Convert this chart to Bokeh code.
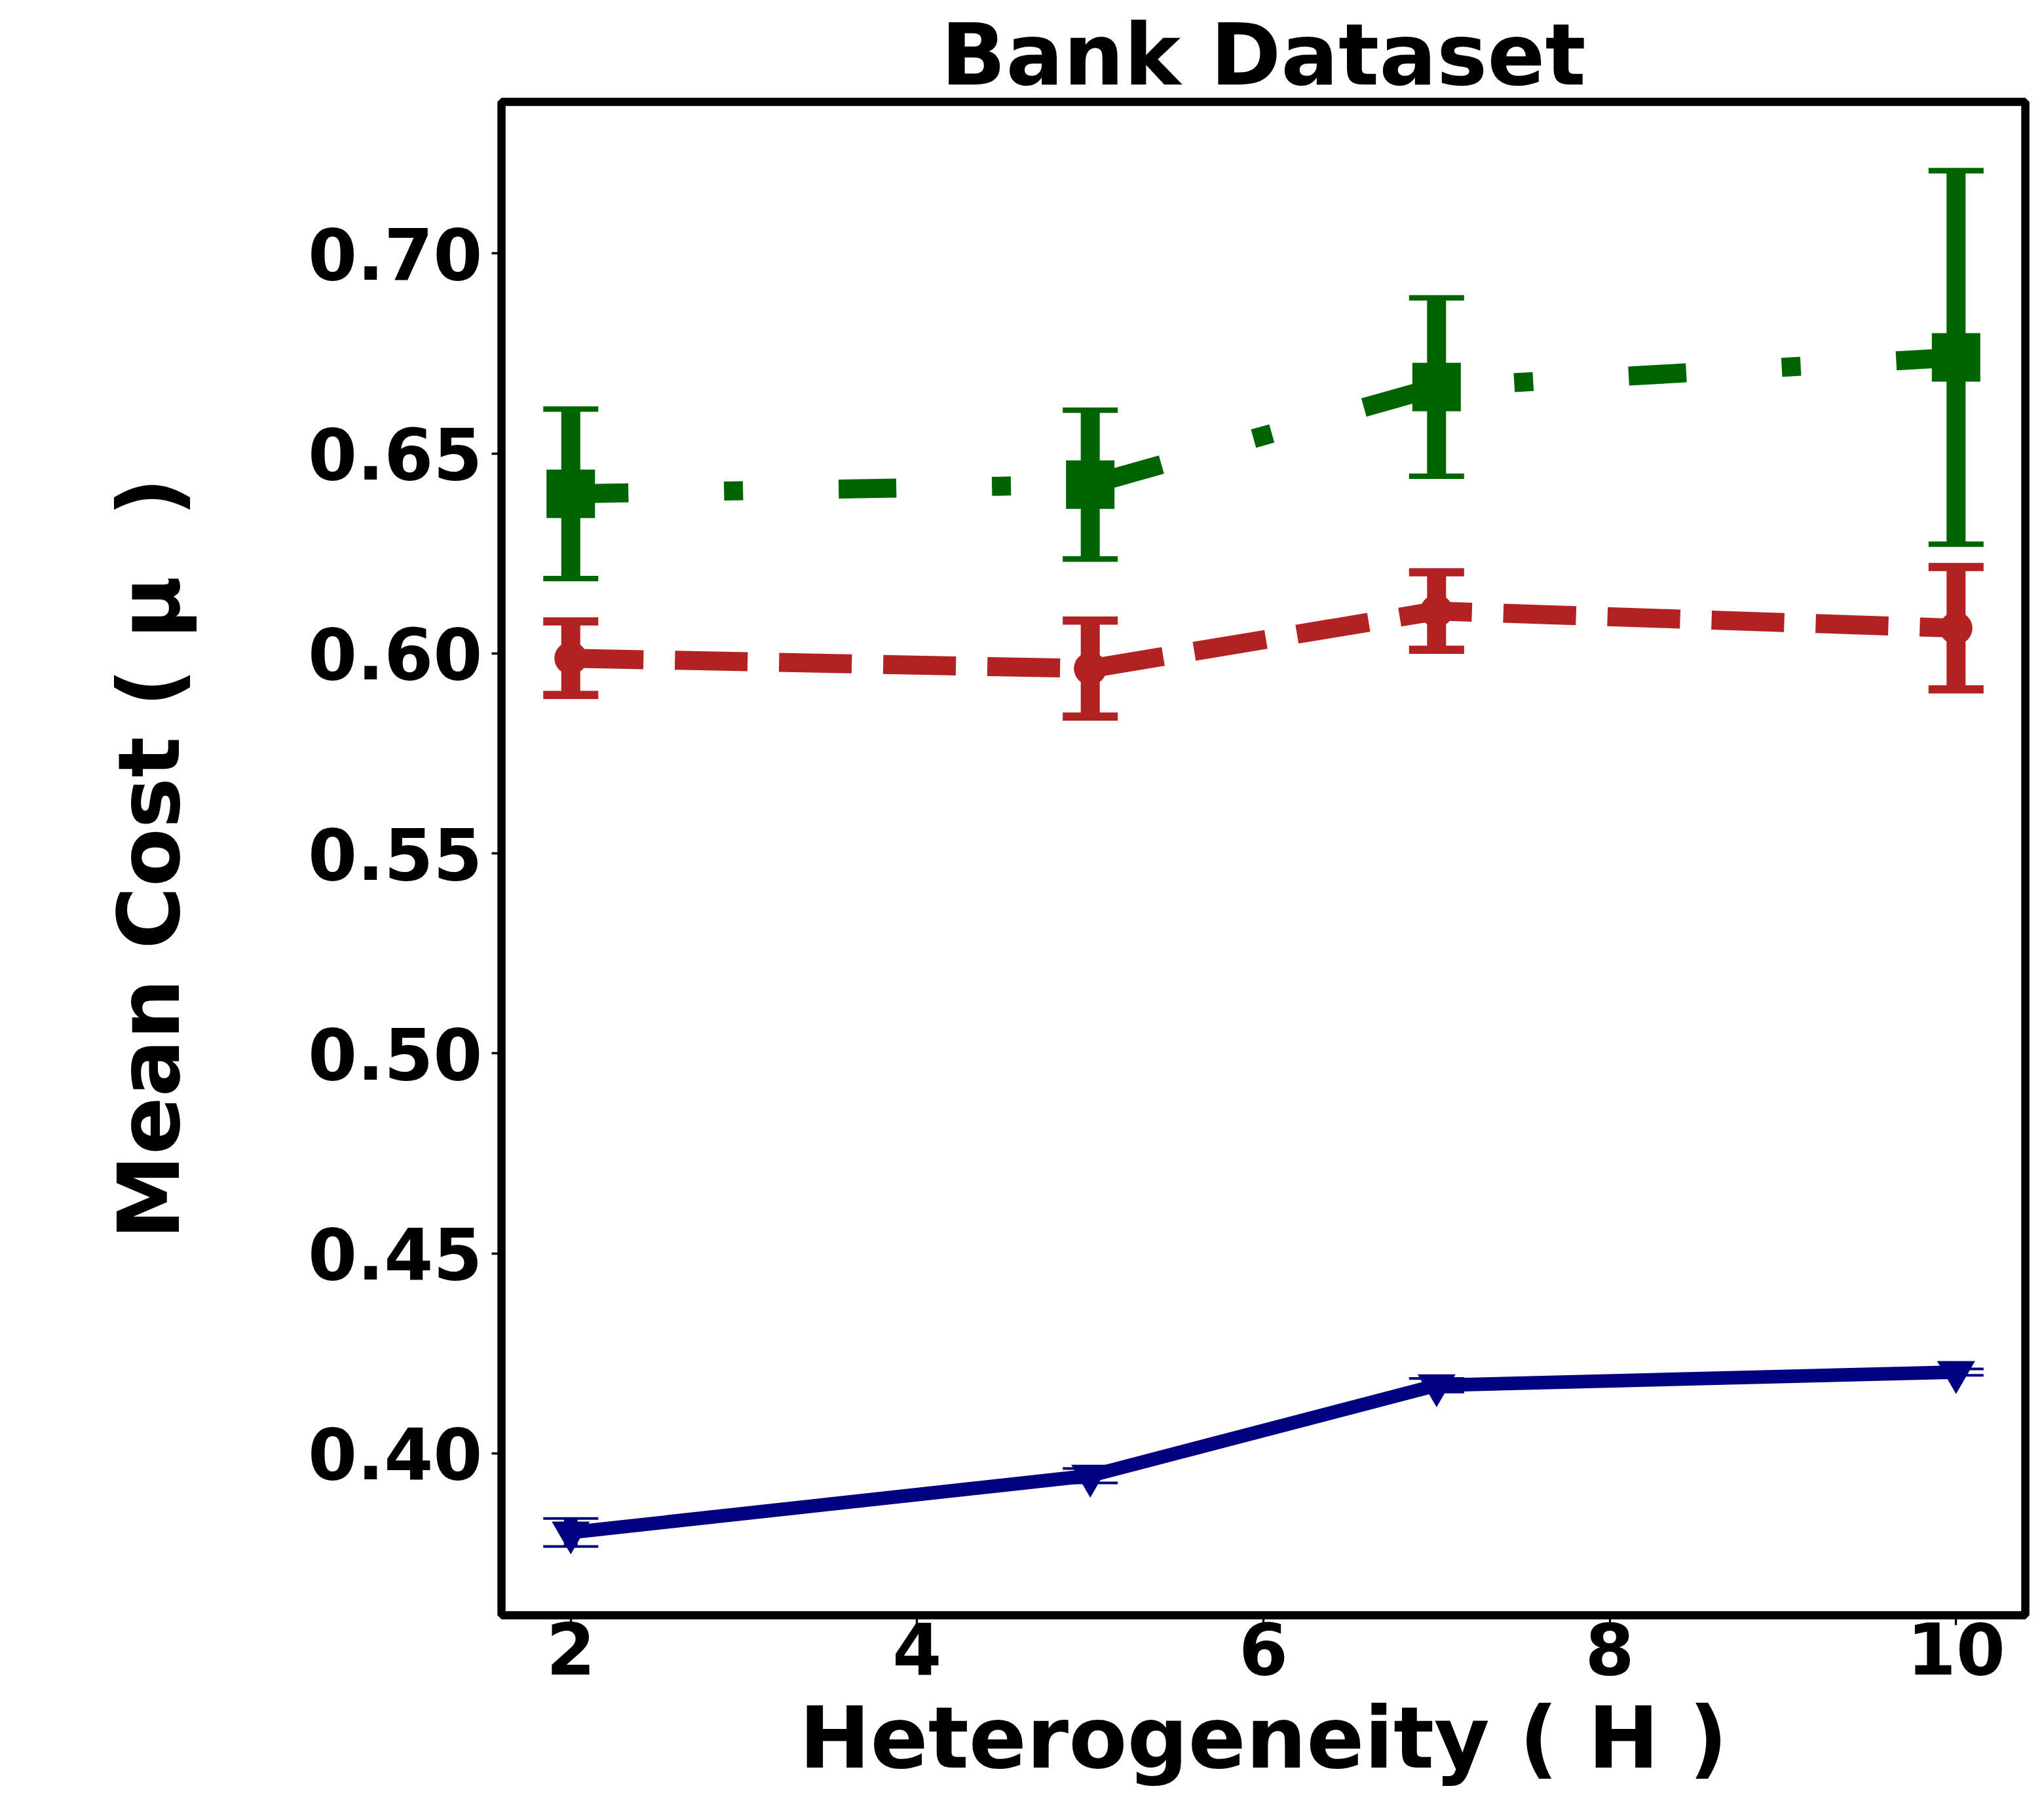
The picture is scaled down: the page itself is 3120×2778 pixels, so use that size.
from bokeh.plotting import figure
from bokeh.models import Range1d, FixedTicker, PrintfTickFormatter
from bokeh.embed import file_html
from bokeh.resources import INLINE

# ---- data ----
heterogeneity = [2, 5, 7, 10]
green_mean = [0.6399, 0.6422, 0.6666, 0.6740]
green_err = [0.0212, 0.0186, 0.0223, 0.0467]
red_mean = [0.5988, 0.5962, 0.6106, 0.6063]
red_err = [0.0092, 0.0120, 0.0097, 0.0153]
blue_mean = [0.3802, 0.3944, 0.4170, 0.4203]
blue_err = [0.0035, 0.0018, 0.0017, 0.0008]
x_ticks = [2, 4, 6, 8, 10]
y_ticks = [0.40, 0.45, 0.50, 0.55, 0.60, 0.65, 0.70]

title_text = "Bank Dataset"
x_label = "Heterogeneity ( H )"
y_label = "Mean Cost ( \u03bc\u00a0\u00a0)"

# ---- ranges like matplotlib's 5% margins ----
all_lo = [m - e for m, e in zip(green_mean + red_mean + blue_mean, green_err + red_err + blue_err)]
all_hi = [m + e for m, e in zip(green_mean + red_mean + blue_mean, green_err + red_err + blue_err)]
ylo, yhi = min(all_lo), max(all_hi)
ypad = 0.05 * (yhi - ylo)
xlo, xhi = min(heterogeneity), max(heterogeneity)
xpad = 0.05 * (xhi - xlo)

FONT = "DejaVu Sans"
W, H = 3104, 2762
p = figure(width=W, height=H,
           x_range=Range1d(xlo - xpad, xhi + xpad),
           y_range=Range1d(ylo - ypad, yhi + ypad),
           output_backend="svg", toolbar_location=None,
           min_border_left=765, min_border_right=13,
           min_border_top=155, min_border_bottom=297)

p.background_fill_color = "white"
p.border_fill_color = "white"
p.grid.visible = False
p.outline_line_color = "black"
p.outline_line_width = 12.5
p.outline_line_alpha = 1.0

# title
p.title.text = title_text
p.title.align = "center"
p.title.text_font = FONT
p.title.text_font_size = "130px"
p.title.text_font_style = "bold"
p.title.text_color = "black"
p.title.standoff = -8

for ax in (p.xaxis[0], p.yaxis[0]):
    ax.axis_line_color = None
    ax.major_tick_line_color = "black"
    ax.major_tick_line_width = 3.3
    ax.major_tick_out = 15
    ax.major_tick_in = 0
    ax.minor_tick_line_color = None
    ax.major_label_text_font = FONT
    ax.major_label_text_font_size = "108px"
    ax.major_label_text_font_style = "bold"
    ax.major_label_text_color = "black"
    ax.axis_label_text_font = FONT
    ax.axis_label_text_font_size = "130px"
    ax.axis_label_text_font_style = "bold"
    ax.axis_label_text_color = "black"

p.xaxis[0].ticker = FixedTicker(ticks=x_ticks)
p.xaxis[0].formatter = PrintfTickFormatter(format="%d")
p.xaxis[0].major_label_standoff = -5
p.xaxis[0].axis_label = x_label
p.xaxis[0].axis_label_standoff = 18

p.yaxis[0].ticker = FixedTicker(ticks=y_ticks)
p.yaxis[0].formatter = PrintfTickFormatter(format="%.2f")
p.yaxis[0].major_label_standoff = 14
p.yaxis[0].axis_label = y_label
p.yaxis[0].axis_label_standoff = 163


def series(mean, err, color, lw, dash, marker, msize, cap_w):
    lo = [m - e for m, e in zip(mean, err)]
    hi = [m + e for m, e in zip(mean, err)]
    p.line(heterogeneity, mean, line_color=color, line_width=lw,
           line_dash=dash, line_join="round")
    p.segment(x0=heterogeneity, y0=lo, x1=heterogeneity, y1=hi,
              line_color=color, line_width=lw)
    p.scatter(heterogeneity, lo, marker="dash", size=84,
              line_color=color, line_width=cap_w)
    p.scatter(heterogeneity, hi, marker="dash", size=84,
              line_color=color, line_width=cap_w)
    p.scatter(heterogeneity, mean, marker=marker, size=msize,
              fill_color=color, line_color=color, line_width=0)


series(red_mean, red_err, "#b22222", 29, "111 48", "circle", 50, 12.5)
series(green_mean, green_err, "#006400", 29, "88 146 29 146", "square", 74, 8.3)
series(blue_mean, blue_err, "#000080", 20.8, "solid", "inverted_triangle", 58, 4)

open("out.html", "w").write(file_html(p, INLINE))
